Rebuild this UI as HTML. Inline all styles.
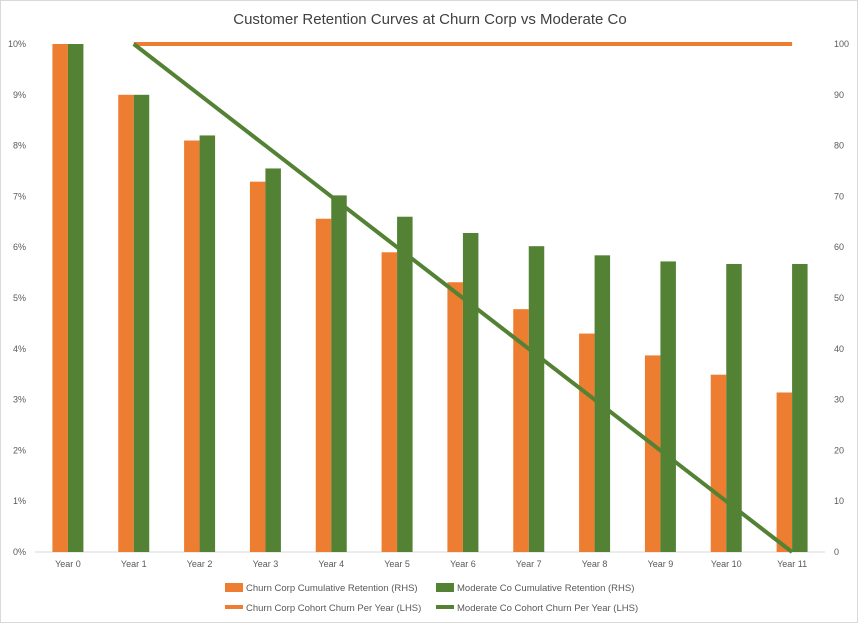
<!DOCTYPE html>
<html><head><meta charset="utf-8"><style>
body{margin:0;background:#fff;font-family:"Liberation Sans",sans-serif}
svg text{font-family:"Liberation Sans",sans-serif}
</style></head><body>
<svg id="chart" width="859" height="624" viewBox="0 0 859 624" xmlns="http://www.w3.org/2000/svg">
<rect x="0.5" y="0.5" width="857" height="622" fill="#fff" stroke="#d9d9d9"/>
<text x="430" y="24" text-anchor="middle" font-size="15" fill="#404040">Customer Retention Curves at Churn Corp vs Moderate Co</text>
<g id="axes"></g><g id="marks"></g>
<g font-size="9.5" fill="#595959">
<rect x="225" y="583" width="18" height="9" fill="#ED7D31"/>
<text x="246" y="591">Churn Corp Cumulative Retention (RHS)</text>
<rect x="436" y="583" width="18" height="9" fill="#548235"/>
<text x="457" y="591">Moderate Co Cumulative Retention (RHS)</text>
<line x1="225" y1="607" x2="243" y2="607" stroke="#ED7D31" stroke-width="4"/>
<text x="246" y="611">Churn Corp Cohort Churn Per Year (LHS)</text>
<line x1="436" y1="607" x2="454" y2="607" stroke="#548235" stroke-width="4"/>
<text x="457" y="611">Moderate Co Cohort Churn Per Year (LHS)</text>
</g>
</svg>
<script>
const categories=["Year 0","Year 1","Year 2","Year 3","Year 4","Year 5","Year 6","Year 7","Year 8","Year 9","Year 10","Year 11"];
const churnRetention=[100,90,81,72.9,65.6,59,53.1,47.8,43,38.7,34.9,31.4];
const moderateRetention=[100,90,82,75.5,70.2,66,62.8,60.2,58.4,57.2,56.7,56.7];
const churnChurn=[null,10,10,10,10,10,10,10,10,10,10,10];
const moderateChurn=[null,10,9,8,7,6,5,4,3,2,1,0];
const leftTicks=[0,1,2,3,4,5,6,7,8,9,10];
const rightTicks=[0,10,20,30,40,50,60,70,80,90,100];
const NS="http://www.w3.org/2000/svg";
const L=35,R=825,T=44,B=552,bw=(R-L)/categories.length;
const xc=i=>L+bw*(i+0.5);
const yL=v=>B-(v/10)*(B-T);
const yR=v=>B-(v/100)*(B-T);
function mk(tag,attrs,parent,text){const e=document.createElementNS(NS,tag);for(const k in attrs)e.setAttribute(k,attrs[k]);if(text!==undefined)e.textContent=text;parent.appendChild(e);return e;}
const axes=document.getElementById('axes'),marks=document.getElementById('marks');
leftTicks.forEach(v=>{const t=mk('text',{x:26,y:yL(v)+3,'text-anchor':'end','font-size':'9',fill:'#595959'},axes,v+'%');

});
rightTicks.forEach(v=>{const t=mk('text',{x:834,y:yR(v)+3,'font-size':'9',fill:'#595959'},axes,String(v));

});
const ax=mk('line',{x1:L,x2:R,y1:B,y2:B,stroke:'#d9d9d9','stroke-width':1},axes);


categories.forEach((c,i)=>{const t=mk('text',{x:xc(i),y:567,'text-anchor':'middle','font-size':'9',fill:'#595959'},axes,c);

});
const w=15.5;
categories.forEach((c,i)=>{
const a=mk('rect',{x:xc(i)-w,y:yR(churnRetention[i]),width:w,height:B-yR(churnRetention[i]),fill:'#ED7D31'},marks);


const b=mk('rect',{x:xc(i),y:yR(moderateRetention[i]),width:w,height:B-yR(moderateRetention[i]),fill:'#548235'},marks);

});
function line(arr,col,name){const pts=[];arr.forEach((v,i)=>{if(v!==null)pts.push(xc(i)+','+yL(v));});
const p=mk('polyline',{points:pts.join(' '),fill:'none',stroke:col,'stroke-width':4},marks);

}
line(churnChurn,'#ED7D31','line-churn-corp-churn');
line(moderateChurn,'#548235','line-moderate-co-churn');
</script>
</body></html>
